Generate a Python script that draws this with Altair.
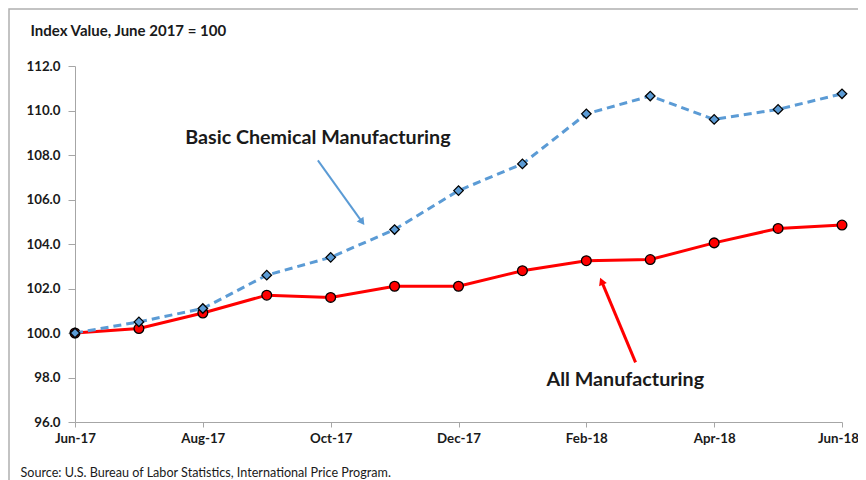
import altair as alt
import pandas as pd

# ---- data ----
months = ["Jun-17", "Jul-17", "Aug-17", "Sep-17", "Oct-17", "Nov-17", "Dec-17",
          "Jan-18", "Feb-18", "Mar-18", "Apr-18", "May-18", "Jun-18"]
all_mfg = [100.0, 100.2, 100.9, 101.7, 101.6, 102.1, 102.1, 102.8, 103.25,
           103.3, 104.05, 104.7, 104.85]
basic_chem = [100.0, 100.5, 101.1, 102.6, 103.4, 104.65, 106.4, 107.6, 109.85,
              110.65, 109.6, 110.05, 110.75]

y_ticks = [96, 98, 100, 102, 104, 106, 108, 110, 112]
x_ticks = [0, 2, 4, 6, 8, 10, 12]

ann_text = ["Basic Chemical Manufacturing", "All Manufacturing"]
ann_x = [3.8, 8.61]
ann_y = [108.75, 97.87]
arrow_x0 = [3.8, 8.77]
arrow_y0 = [107.76, 98.68]
arrow_x1 = [4.53, 8.21]
arrow_y1 = [104.84, 102.52]
arrow_angle = [144, 337.5]
arrow_color = ["#5b9bd5", "#ff0000"]
arrow_width = [2, 3]

FONT = "Lato"
AXIS_GRAY = "#a6a6a6"
TEXT = "#1a1a1a"

df = pd.DataFrame({
    "idx": list(range(len(months))) * 2,
    "month": months * 2,
    "value": all_mfg + basic_chem,
    "series": ["All Manufacturing"] * len(months) + ["Basic Chemical Manufacturing"] * len(months),
})

t = 0.95
ann = pd.DataFrame({
    "text": ann_text, "tx": ann_x, "ty": ann_y,
    "x0": arrow_x0, "y0": arrow_y0,
    "hx": [a + t * (b - a) for a, b in zip(arrow_x0, arrow_x1)],
    "hy": [a + t * (b - a) for a, b in zip(arrow_y0, arrow_y1)],
    "angle": arrow_angle, "color": arrow_color, "w": arrow_width,
})

label_js = "[" + ",".join("'%s'" % m for m in months) + "][datum.value]"

x_enc = alt.X("idx:Q",
              scale=alt.Scale(domain=[0, 12], nice=False, zero=False),
              axis=alt.Axis(values=x_ticks, labelExpr=label_js, grid=False, labelFlush=False,
                            labelOffset={"condition": {"test": "datum.value == 12", "value": -4},
                                         "value": 0},
                            domainColor=AXIS_GRAY, tickColor=AXIS_GRAY, tickSize=5,
                            labelPadding=4, labelFont=FONT, labelFontSize=13.3,
                            labelFontWeight="bold", labelColor=TEXT,
                            title="Source: U.S. Bureau of Labor Statistics, International Price Program.",
                            titleFont=FONT, titleFontSize=12.6, titleFontWeight="normal",
                            titleColor=TEXT, titleX=-55, titleY=50, titleAlign="left",
                            titleAnchor="start", titleBaseline="middle"))
y_enc = alt.Y("value:Q",
              scale=alt.Scale(domain=[96, 112], nice=False, zero=False),
              axis=alt.Axis(values=y_ticks, format=".1f", grid=False,
                            domainColor=AXIS_GRAY, tickColor=AXIS_GRAY, tickSize=7,
                            labelPadding=8, labelFont=FONT, labelFontSize=13.3,
                            labelFontWeight="bold", labelColor=TEXT,
                            title="Index Value, June 2017 = 100",
                            titleFont=FONT, titleFontSize=15, titleFontWeight="bold",
                            titleColor=TEXT, titleAngle=0, titleX=-45, titleY=-36,
                            titleAlign="left", titleBaseline="middle"))

base = alt.Chart(df)

red_line = base.transform_filter(alt.datum.series == "All Manufacturing").mark_line(
    color="#ff0000", strokeWidth=3).encode(x=x_enc, y=y_enc)
red_pts = base.transform_filter(alt.datum.series == "All Manufacturing").mark_point(
    shape="circle", filled=True, fill="#ff0000", stroke="black", strokeWidth=1.3,
    size=95, opacity=1).encode(x="idx:Q", y="value:Q")
blue_line = base.transform_filter(alt.datum.series == "Basic Chemical Manufacturing").mark_line(
    color="#5b9bd5", strokeWidth=3, strokeDash=[8, 5]).encode(x="idx:Q", y="value:Q")
blue_pts = base.transform_filter(alt.datum.series == "Basic Chemical Manufacturing").mark_point(
    shape="diamond", filled=True, fill="#5b9bd5", stroke="black", strokeWidth=1.3,
    size=90, opacity=1).encode(x="idx:Q", y="value:Q")

abase = alt.Chart(ann)
arrows = abase.mark_rule().encode(
    x="x0:Q", y="y0:Q", x2="hx:Q", y2="hy:Q",
    color=alt.Color("color:N", scale=None),
    strokeWidth=alt.StrokeWidth("w:Q", scale=None))
heads = abase.mark_point(shape="triangle-up", filled=True, size=70, opacity=1).encode(
    x="hx:Q", y="hy:Q",
    color=alt.Color("color:N", scale=None),
    angle=alt.Angle("angle:Q", scale=None))
labels = abase.mark_text(font=FONT, fontSize=19.7, fontWeight="bold", color=TEXT,
                         align="center", baseline="middle").encode(
    x="tx:Q", y="ty:Q", text="text:N")

border = alt.Chart(pd.DataFrame({"b": [0]})).mark_rect(
    fill="white", fillOpacity=0, stroke="#b0b0b0", strokeWidth=1.5).encode(
    x=alt.value(-66), x2=alt.value(900), y=alt.value(-57), y2=alt.value(600))

chart = alt.layer(border, red_line, red_pts, blue_line, blue_pts, arrows, heads, labels).properties(
    width=767, height=356,
    autosize=alt.AutoSizeParams(type="none"),
    padding={"left": 67, "top": 58, "right": 16, "bottom": 58},
    background="white",
).configure_view(stroke=None)

chart.save("out.html", embed_options={"renderer": "svg", "actions": False})
